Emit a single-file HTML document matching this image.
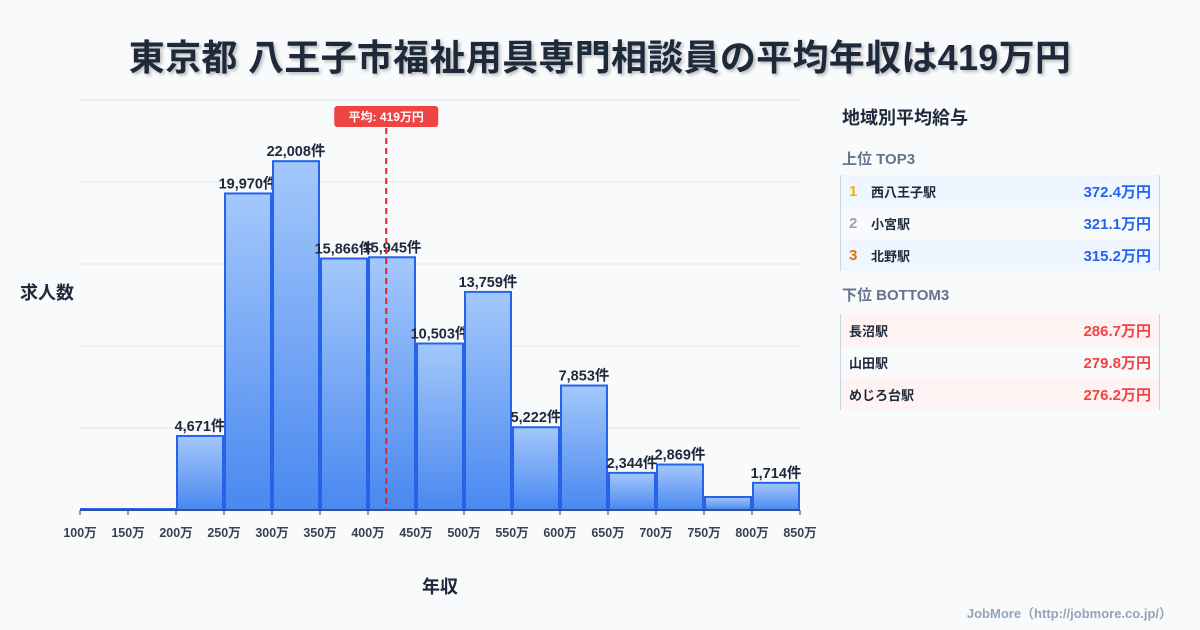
<!DOCTYPE html>
<html><head><meta charset="utf-8"><style>
body{margin:0;width:1200px;height:630px;background:#f8fafc;font-family:"Liberation Sans","Noto Sans CJK JP",sans-serif;overflow:hidden;position:relative}
.title{position:absolute;top:29px;left:0;width:1200px;text-align:center;font-size:36px;font-weight:bold;color:#1e293b;text-shadow:2px 2px 3px rgba(0,0,0,0.25);letter-spacing:0.3px}
.side{position:absolute;left:840px;top:100px;width:320px}
.h{font-size:18px;font-weight:bold;color:#1e293b;margin:4px 0 0 2px}
.sub{font-size:15px;font-weight:bold;color:#64748b;margin:2px 0 0 2px;height:22px}
.tbl{border-left:1px solid #cbd5e1;border-right:1px solid #cbd5e1}
.row{height:32px;display:flex;align-items:center;font-size:13px;font-weight:bold;color:#1e293b;padding:0 8px}
.row .n{width:22px;font-size:15px}
.row .v{margin-left:auto;font-size:15px}
.b .v{color:#2563eb}.r .v{color:#ef4444}
.b.alt{background:#eff6ff}.r.alt{background:#fef2f2}
.foot{position:absolute;right:28px;top:603px;font-size:13px;font-weight:bold;color:#94a3b8}
</style></head><body>
<div class="title">東京都 八王子市福祉用具専門相談員の平均年収は419万円</div>
<svg id="chart" width="830" height="630" style="position:absolute;left:0;top:0"></svg>
<div class="side">
<div class="h" style="height:40px">地域別平均給与</div>
<div class="sub" style="margin-top:4px;height:27px">上位 TOP3</div>
<div class="tbl">
<div class="row b alt"><span class="n" style="color:#eab308">1</span>西八王子駅<span class="v">372.4万円</span></div>
<div class="row b"><span class="n" style="color:#9ca3af">2</span>小宮駅<span class="v">321.1万円</span></div>
<div class="row b alt"><span class="n" style="color:#d97706">3</span>北野駅<span class="v">315.2万円</span></div>
</div>
<div class="sub" style="margin-top:13px;height:30px">下位 BOTTOM3</div>
<div class="tbl">
<div class="row r alt">長沼駅<span class="v">286.7万円</span></div>
<div class="row r">山田駅<span class="v">279.8万円</span></div>
<div class="row r alt">めじろ台駅<span class="v">276.2万円</span></div>
</div>
</div>
<div class="foot">JobMore（http://jobmore.co.jp/）</div>
<script>
const binStarts=[100,150,200,250,300,350,400,450,500,550,600,650,700,750,800];
const counts=[60,60,4671,19970,22008,15866,15945,10503,13759,5222,7853,2344,2869,820,1714];
const showLabel=[false,false,true,true,true,true,true,true,true,true,true,true,true,false,true];
const tickLabels=[100,150,200,250,300,350,400,450,500,550,600,650,700,750,800,850];
const meanValue=419;
const NS="http://www.w3.org/2000/svg";
const svg=document.getElementById('chart');
const x0=80,x1=800,y0=510,y1=100,xmin=100,xmax=850,ymax=25866;
const X=v=>x0+(v-xmin)/(xmax-xmin)*(x1-x0);
const Y=v=>y0-v/ymax*(y0-y1);
function mk(t,a){const e=document.createElementNS(NS,t);for(const k in a)e.setAttribute(k,a[k]);svg.appendChild(e);return e;}
const defs=mk('defs',{});
defs.innerHTML='<linearGradient id="g" x1="0" y1="0" x2="0" y2="1"><stop offset="0" stop-color="#a3c8fb"/><stop offset="1" stop-color="#4a88f0"/></linearGradient>';
for(let i=0;i<=5;i++){const y=y0-i*(y0-y1)/5;const l=mk('line',{x1:x0,x2:x1,y1:y,y2:y,stroke:'#e5e7eb','stroke-width':1});

}
const bw=X(150)-X(100);
binStarts.forEach((b,i)=>{
const x=X(b),y=Y(counts[i]);
const r=mk('rect',{x:x+1,y:y,width:bw-2,height:y0-y,fill:'url(#g)',stroke:'#2563eb','stroke-width':2});


if(showLabel[i]){const t=mk('text',{x:x+bw/2,y:y-5,'text-anchor':'middle','font-size':14.5,'font-weight':'bold',fill:'#1e293b'});t.textContent=counts[i].toLocaleString('en-US')+'件';

}
});
mk('line',{x1:x0,x2:x1,y1:y0,y2:y0,stroke:'#374151','stroke-width':1});
tickLabels.forEach(v=>{const x=X(v);mk('line',{x1:x,x2:x,y1:y0,y2:y0+5,stroke:'#374151'});
const t=mk('text',{x:x,y:537,'text-anchor':'middle','font-size':12.5,'font-weight':'bold',fill:'#374151'});t.textContent=v+'万';

});
const mx=X(meanValue);
mk('line',{x1:mx,x2:mx,y1:128,y2:y0,stroke:'#dc2626','stroke-width':2,'stroke-dasharray':'6,4'});
const mr=mk('rect',{x:mx-52,y:106,width:104,height:21,rx:3,fill:'#ef4444'});


const mt=mk('text',{x:mx,y:121,'text-anchor':'middle','font-size':12,'font-weight':'bold',fill:'#fff'});mt.textContent='平均: '+meanValue+'万円';
const yt=mk('text',{x:20,y:299,'font-size':18,'font-weight':'bold',fill:'#1e293b'});yt.textContent='求人数';


const xt=mk('text',{x:440,y:593,'text-anchor':'middle','font-size':18,'font-weight':'bold',fill:'#1e293b'});xt.textContent='年収';


</script>
</body></html>
